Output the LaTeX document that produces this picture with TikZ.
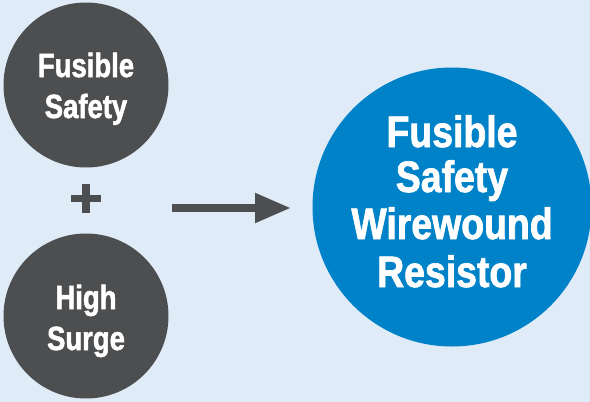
\documentclass[tikz,border=0pt]{standalone}
\usepackage{fontspec}
\newfontfamily\condbold{Liberation Sans Bold}[FakeStretch=0.82, FakeBold=1.6]
\newfontfamily\condboldb{Liberation Sans Bold}[FakeStretch=0.85, FakeBold=1.6]
\usetikzlibrary{arrows.meta}
\definecolor{bgblue}{HTML}{DFEBF7}
\definecolor{darkgray}{HTML}{4D4E50}
\definecolor{mainblue}{HTML}{0082C8}
\tikzset{
  graycirc/.style={circle, fill=darkgray, minimum size=165pt, inner sep=0pt},
  bluecirc/.style={circle, fill=mainblue, minimum size=279pt, inner sep=0pt},
  smalltxt/.style={anchor=base, text=white, font=\condbold\fontsize{33.5pt}{40pt}\selectfont, inner sep=0pt},
  bigtxt/.style={anchor=base, text=white, font=\condboldb\fontsize{44pt}{50pt}\selectfont, inner sep=0pt},
  plusbar/.style={darkgray},
  bigarrow/.style={darkgray, line width=8pt, -{Triangle[length=36pt,width=28pt]}}
}
\begin{document}
\begin{tikzpicture}[x=1pt,y=-1pt]
\fill[bgblue] (0,0) rectangle (590,402);
\useasboundingbox (0,0) rectangle (590,402);
\node[graycirc] (fs) at (86,85) {};
\node[graycirc] (hs) at (86,316) {};
\node[bluecirc] (res) at (452,207) {};
\node[smalltxt] (fs1) at (86,77) {Fusible};
\node[smalltxt] (fs2) at (86,118) {Safety};
\node[smalltxt] (hs1) at (86,309) {High};
\node[smalltxt] (hs2) at (86,350) {Surge};
\node[bigtxt] (r1) at (452,147) {Fusible};
\node[bigtxt] (r2) at (452,192) {Safety};
\node[bigtxt] (r3) at (452,239) {Wirewound};
\node[bigtxt] (r4) at (452,287) {Resistor};
\node[inner sep=0pt, minimum size=0pt] (plus) at (86,198.5) {};
\fill[plusbar] ([xshift=-15pt,yshift=3.5pt]plus.center) rectangle ([xshift=15pt,yshift=-3.5pt]plus.center);
\fill[plusbar] ([xshift=-4pt,yshift=14.5pt]plus.center) rectangle ([xshift=4pt,yshift=-14.5pt]plus.center);
\coordinate (as) at (172,208);
\coordinate (ae) at (291,208);
\draw[bigarrow] (as) -- (ae);
\end{tikzpicture}
\end{document}
